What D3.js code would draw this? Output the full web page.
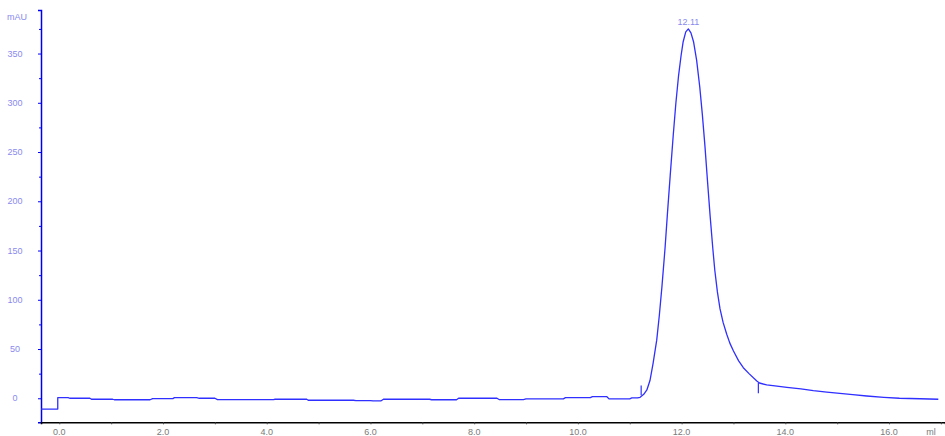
<!DOCTYPE html>
<html>
<head>
<meta charset="utf-8">
<script src="https://cdn.jsdelivr.net/npm/d3@7/dist/d3.min.js"></script>
<style>
  html, body { margin: 0; padding: 0; background: #fff; }
  svg { display: block; }
  text { font-family: "Liberation Sans", Arial, sans-serif; }
</style>
</head>
<body>
<svg id="chart" width="945" height="436"></svg>
<script>
// ---- data ----
const volumeMl = [
  -0.35, -0.03, -0.03, 0.17, 0.2, 0.27, 0.59, 0.62, 1.03, 1.06, 1.75, 1.8, 2.19, 2.22, 2.65, 2.7, 3.0, 3.05,
  4.13, 4.16, 4.77, 4.8, 5.67, 5.72, 6.0, 6.05, 6.2, 6.25, 7.14, 7.18, 7.66, 7.7, 8.44, 8.48, 8.95, 9.0,
  9.72, 9.76, 10.24, 10.28, 10.56, 10.6, 11.0, 11.04, 11.15,
  11.2, 11.27, 11.33, 11.39, 11.45, 11.52, 11.57, 11.62, 11.68, 11.73, 11.78, 11.84, 11.89, 11.94, 11.99,
  12.03, 12.08, 12.13, 12.18, 12.23, 12.29, 12.35, 12.40, 12.45, 12.50, 12.55, 12.60, 12.64, 12.69, 12.74,
  12.80, 12.87, 12.93, 13.0, 13.1, 13.19, 13.3, 13.45, 13.5, 13.64, 13.8, 14.03, 14.3, 14.54, 14.8, 15.05,
  15.3, 15.57, 15.9, 16.2, 16.6, 16.95
];
const absorbanceMAU = [
  -11, -11, 0.6, 0.6, 0, 0, 0, -1, -1, -1.5, -1.5, -0.3, -0.3, 0.6, 0.6, 0, 0, -1.3,
  -1.3, -1, -1, -2, -2, -2.3, -2.3, -2.7, -2.7, -1, -1, -1.5, -1.5, 0, 0, -1.3, -1.3, -0.6,
  -0.6, 0.6, 0.6, 1.6, 1.6, -0.6, -0.6, 0.3, 0.3,
  1, 4, 8.4, 18, 35.5, 59, 84, 113, 152, 190, 226, 268, 300, 327, 348,
  362, 372, 375, 371, 362, 343, 316, 288, 256, 220, 185, 153, 130, 108, 91,
  77, 65, 56, 48, 38, 31, 25, 17.5, 15.5, 13.5, 12.5, 11, 9.5, 7.7, 6.3, 5,
  3.6, 2.3, 1, 0, -0.5, -1
];
// integration markers: position, low and high value of the small vertical stroke
const markerMl = [11.22, 13.48];
const markerLow = [3, 5];
const markerHigh = [13, 15.5];
// peak annotation
const peakLabels = ["12.11"];
const peakMl = [12.13];
const peakValue = [375];
// axis ticks
const yMajorTicks = [0, 50, 100, 150, 200, 250, 300, 350];
const yMinorTicks = [25, 75, 125, 175, 225, 275, 325, 375];
const xMajorTicks = [0, 2, 4, 6, 8, 10, 12, 14, 16];
const xMinorTicks = [1, 3, 5, 7, 9, 11, 13, 15, 17];
const xTickLabels = ["0.0", "2.0", "4.0", "6.0", "8.0", "10.0", "12.0", "14.0", "16.0"];
const yUnit = "mAU";
const xUnit = "ml";

// ---- drawing ----
const svg = d3.select("#chart");
const x = d3.scaleLinear().domain([-0.353, 17.079]).range([41, 945]);
const y = d3.scaleLinear().domain([-24.4, 394.2]).range([422.3, 10]);

const lineColor = "#2f2fff";
const axisBlue = "#0000f0";
const labelBlue = "#8a8aee";
const labelGray = "#7a7a7a";

// Y axis (blue)
const yAxis = d3.axisLeft(y).tickValues(yMajorTicks).tickSize(3).tickFormat("");
const gy = svg.append("g").attr("transform", "translate(41,0)").call(yAxis);
gy.select(".domain").attr("stroke", axisBlue).attr("stroke-width", 1.5);
gy.selectAll(".tick line").attr("stroke", axisBlue);
const yMinor = d3.axisLeft(y).tickValues(yMinorTicks).tickSize(2).tickFormat("");
const gym = svg.append("g").attr("transform", "translate(41,0)").call(yMinor);
gym.select(".domain").remove();
gym.selectAll(".tick line").attr("stroke", axisBlue);

svg.append("g").selectAll("text").data(yMajorTicks).join("text")
  .attr("x", 15).attr("y", d => y(d) + 3)
  .attr("text-anchor", "middle")
  .attr("font-size", 9).attr("fill", labelBlue)
  .text(d => d);
svg.append("text").attr("x", 17).attr("y", 20)
  .attr("text-anchor", "middle").attr("font-size", 9).attr("fill", labelBlue)
  .text(yUnit);

// X axis (black)
const xAxis = d3.axisBottom(x).tickValues(xMajorTicks).tickSize(2).tickFormat("");
const gx = svg.append("g").attr("transform", "translate(0,422.3)").call(xAxis);
gx.select(".domain").attr("stroke", "#000").attr("stroke-width", 1.5);
gx.selectAll(".tick line").attr("stroke", "#444");
const xMinor = d3.axisBottom(x).tickValues(xMinorTicks).tickSize(2).tickFormat("");
const gxm = svg.append("g").attr("transform", "translate(0,422.3)").call(xMinor);
gxm.select(".domain").remove();
gxm.selectAll(".tick line").attr("stroke", "#444");

svg.append("g").selectAll("text").data(xMajorTicks).join("text")
  .attr("x", d => x(d)).attr("y", 435)
  .attr("text-anchor", "middle")
  .attr("font-size", 9).attr("fill", labelGray)
  .text((d, i) => xTickLabels[i]);
svg.append("text").attr("x", 931).attr("y", 435)
  .attr("text-anchor", "middle").attr("font-size", 9).attr("fill", labelGray)
  .text(xUnit);

// chromatogram trace
const pts = volumeMl.map((v, i) => [v, absorbanceMAU[i]]);
const line = d3.line().x(d => x(d[0])).y(d => y(d[1]));
svg.append("path").datum(pts)
  .attr("d", line)
  .attr("fill", "none")
  .attr("stroke", lineColor)
  .attr("stroke-width", 1.3)
  .attr("stroke-linejoin", "round");

// integration markers
svg.append("g").selectAll("line").data(markerMl).join("line")
  .attr("x1", d => x(d)).attr("x2", d => x(d))
  .attr("y1", (d, i) => y(markerLow[i])).attr("y2", (d, i) => y(markerHigh[i]))
  .attr("stroke", lineColor).attr("stroke-width", 1.2);

// peak labels
svg.append("g").selectAll("text").data(peakLabels).join("text")
  .attr("x", (d, i) => x(peakMl[i]))
  .attr("y", (d, i) => y(peakValue[i]) - 4)
  .attr("text-anchor", "middle")
  .attr("font-size", 9).attr("fill", labelBlue)
  .text(d => d);
</script>
</body>
</html>
